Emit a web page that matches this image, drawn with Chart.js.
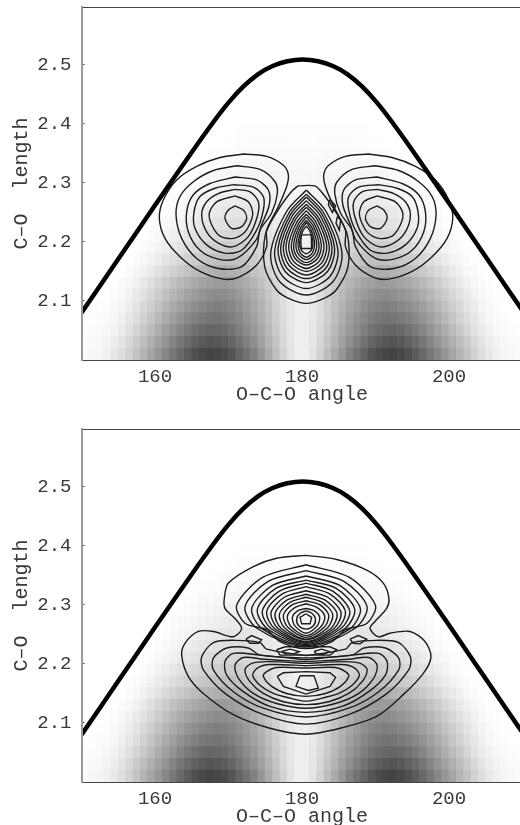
<!DOCTYPE html>
<html><head><meta charset="utf-8">
<script src="https://cdn.jsdelivr.net/npm/chart.js@4/dist/chart.umd.min.js"></script>
<style>html,body{margin:0;padding:0;background:#fff;overflow:hidden;width:520px;height:825px}
canvas{position:absolute;left:0;filter:blur(0.35px)}</style></head><body>
<canvas id="c1" width="560" height="407" style="top:0"></canvas>
<canvas id="c2" width="560" height="407" style="top:422px"></canvas>
<script>
const xTickValues=[160,180,200];
const yTickValues=[2.1,2.2,2.3,2.4,2.5];
const xLabel="O\u2013C\u2013O angle";
const yLabel="C\u2013O  length";
const cellAngles=[150.5,151.5,152.5,153.5,154.5,155.5,156.5,157.5,158.5,159.5,160.5,161.5,162.5,163.5,164.5,165.5,166.5,167.5,168.5,169.5,170.5,171.5,172.5,173.5,174.5,175.5,176.5,177.5,178.5,179.5,180.5,181.5,182.5,183.5,184.5,185.5,186.5,187.5,188.5,189.5,190.5,191.5,192.5,193.5,194.5,195.5,196.5,197.5,198.5,199.5,200.5,201.5,202.5,203.5,204.5,205.5,206.5,207.5,208.5,209.5];
const rowEdges=[2.00,2.02,2.04,2.06,2.08,2.10,2.12,2.14,2.16,2.18,2.20,2.22,2.24,2.26,2.28,2.30,2.32,2.34,2.36,2.38,2.40];
const heatRow00=[5,7,10,15,23,33,45,60,75,90,105,120,135,150,163,175,183,187,185,180,170,155,140,125,105,85,65,45,27,17,17,27,45,65,85,105,125,140,155,170,180,185,187,183,175,163,150,135,120,105,90,75,60,45,33,23,15,10,7,5];
const heatRow01=[4,5,8,12,18,27,38,52,66,80,94,108,122,136,148,158,166,170,168,163,153,140,126,112,95,76,58,40,25,17,17,25,40,58,76,95,112,126,140,153,163,168,170,166,158,148,136,122,108,94,80,66,52,38,27,18,12,8,5,4];
const heatRow02=[2,3,5,8,13,20,30,42,55,68,82,95,108,121,132,142,150,153,152,148,140,128,115,102,87,70,53,37,24,17,17,24,37,53,70,87,102,115,128,140,148,152,153,150,142,132,121,108,95,82,68,55,42,30,20,13,8,5,3,2];
const heatRow03=[0,1,3,5,9,15,24,34,46,58,71,84,96,108,118,127,134,138,139,136,129,119,107,95,81,65,50,35,23,17,17,23,35,50,65,81,95,107,119,129,136,139,138,134,127,118,108,96,84,71,58,46,34,24,15,9,5,3,1,0];
const heatRow04=[0,0,1,3,6,11,18,27,38,49,61,73,84,95,105,113,120,125,128,126,120,111,100,89,76,62,47,34,23,17,17,23,34,47,62,76,89,100,111,120,126,128,125,120,113,105,95,84,73,61,49,38,27,18,11,6,3,1,0,0];
const heatRow05=[0,0,0,1,3,7,13,21,30,40,51,62,73,83,92,100,107,112,115,114,109,101,92,82,70,57,44,32,22,17,17,22,32,44,57,70,82,92,101,109,114,115,112,107,100,92,83,73,62,51,40,30,21,13,7,3,1,0,0,0];
const heatRow06=[0,0,0,0,1,4,8,14,22,31,41,51,61,70,78,86,92,97,100,100,96,90,82,73,63,52,40,29,21,16,16,21,29,40,52,63,73,82,90,96,100,100,97,92,86,78,70,61,51,41,31,22,14,8,4,1,0,0,0,0];
const heatRow07=[0,0,0,0,0,1,4,8,14,21,29,38,46,54,61,68,73,77,81,82,79,75,69,62,54,45,35,26,20,15,15,20,26,35,45,54,62,69,75,79,82,81,77,73,68,61,54,46,38,29,21,14,8,4,1,0,0,0,0,0];
const heatRow08=[0,0,0,0,0,0,1,4,8,13,19,26,33,40,46,51,55,59,62,64,63,60,56,51,45,38,30,23,18,15,15,18,23,30,38,45,51,56,60,63,64,62,59,55,51,46,40,33,26,19,13,8,4,1,0,0,0,0,0,0];
const heatRow09=[0,0,0,0,0,0,0,1,4,7,12,17,23,29,34,39,43,46,49,51,51,50,47,43,38,33,27,21,17,14,14,17,21,27,33,38,43,47,50,51,51,49,46,43,39,34,29,23,17,12,7,4,1,0,0,0,0,0,0,0];
const heatRow10=[0,0,0,0,0,0,0,0,1,3,6,10,15,20,25,29,33,36,38,40,41,41,39,36,32,28,24,19,15,13,13,15,19,24,28,32,36,39,41,41,40,38,36,33,29,25,20,15,10,6,3,1,0,0,0,0,0,0,0,0];
const heatRow11=[0,0,0,0,0,0,0,0,0,1,3,6,9,13,17,21,25,28,30,32,33,33,32,30,27,24,20,17,14,12,12,14,17,20,24,27,30,32,33,33,32,30,28,25,21,17,13,9,6,3,1,0,0,0,0,0,0,0,0,0];
const heatRow12=[0,0,0,0,0,0,0,0,0,0,1,3,5,8,11,15,18,21,23,25,26,26,26,24,22,20,17,15,13,11,11,13,15,17,20,22,24,26,26,26,25,23,21,18,15,11,8,5,3,1,0,0,0,0,0,0,0,0,0,0];
const heatRow13=[0,0,0,0,0,0,0,0,0,0,0,1,3,5,7,10,13,15,17,19,20,20,20,19,18,16,14,12,11,10,10,11,12,14,16,18,19,20,20,20,19,17,15,13,10,7,5,3,1,0,0,0,0,0,0,0,0,0,0,0];
const heatRow14=[0,0,0,0,0,0,0,0,0,0,0,0,1,2,4,6,8,10,12,13,14,15,15,15,14,13,12,11,10,9,9,10,11,12,13,14,15,15,15,14,13,12,10,8,6,4,2,1,0,0,0,0,0,0,0,0,0,0,0,0];
const heatRow15=[0,0,0,0,0,0,0,0,0,0,0,0,0,1,2,3,5,6,8,9,10,11,11,11,11,10,10,9,8,7,7,8,9,10,10,11,11,11,11,10,9,8,6,5,3,2,1,0,0,0,0,0,0,0,0,0,0,0,0,0];
const heatRow16=[0,0,0,0,0,0,0,0,0,0,0,0,0,0,0,1,2,3,4,5,6,7,8,8,8,8,7,7,6,6,6,6,7,7,8,8,8,8,7,6,5,4,3,2,1,0,0,0,0,0,0,0,0,0,0,0,0,0,0,0];
const heatRow17=[0,0,0,0,0,0,0,0,0,0,0,0,0,0,0,0,0,1,2,3,3,4,4,5,5,5,5,4,4,4,4,4,4,5,5,5,5,4,4,3,3,2,1,0,0,0,0,0,0,0,0,0,0,0,0,0,0,0,0,0];
const heatRow18=[0,0,0,0,0,0,0,0,0,0,0,0,0,0,0,0,0,0,0,1,1,2,2,3,3,3,3,3,2,2,2,2,3,3,3,3,3,2,2,1,1,0,0,0,0,0,0,0,0,0,0,0,0,0,0,0,0,0,0,0];
const heatRow19=[0,0,0,0,0,0,0,0,0,0,0,0,0,0,0,0,0,0,0,0,0,1,1,1,1,1,1,1,1,1,1,1,1,1,1,1,1,1,1,0,0,0,0,0,0,0,0,0,0,0,0,0,0,0,0,0,0,0,0,0];
const heatRows=[heatRow00,heatRow01,heatRow02,heatRow03,heatRow04,heatRow05,heatRow06,heatRow07,heatRow08,heatRow09,heatRow10,heatRow11,heatRow12,heatRow13,heatRow14,heatRow15,heatRow16,heatRow17,heatRow18,heatRow19];

const ridge=[[150,2.08],[155,2.171],[160,2.262],[165,2.352],[168,2.404],[170,2.436],[172,2.463],[174,2.484],[176,2.498],[178,2.506],[180.1,2.509],[182.2,2.506],[184.2,2.498],[186.2,2.484],[188.2,2.463],[190.2,2.436],[192.2,2.404],[195.2,2.352],[200.2,2.262],[205.2,2.171],[210.2,2.08]];

const topLeft1=[[172.02,2.349],[175.19,2.345],[177.46,2.330],[178.14,2.314],[177.91,2.294],[176.78,2.260],[175.19,2.220],[175.19,2.192],[173.83,2.161],[171.34,2.140],[169.30,2.137],[166.12,2.150],[163.40,2.175],[161.36,2.206],[160.59,2.240],[161.13,2.271],[162.95,2.305],[165.67,2.328],[168.84,2.343]];
const topLeft2=[[171.11,2.329],[174.29,2.323],[176.33,2.302],[176.64,2.282],[175.87,2.249],[174.29,2.220],[173.83,2.192],[171.79,2.158],[168.62,2.155],[165.67,2.172],[163.63,2.206],[162.86,2.246],[163.40,2.277],[165.22,2.302],[167.94,2.321]];
const topLeft3=[[170.88,2.310],[173.83,2.305],[175.42,2.288],[175.55,2.263],[174.51,2.229],[173.74,2.203],[171.11,2.172],[168.62,2.171],[166.12,2.186],[164.54,2.217],[164.31,2.251],[165.22,2.280],[167.48,2.299]];
const topLeft4=[[170.66,2.297],[173.38,2.293],[174.74,2.277],[174.74,2.254],[173.83,2.220],[171.79,2.186],[169.52,2.181],[167.03,2.195],[165.44,2.223],[165.31,2.251],[166.12,2.277],[168.16,2.291]];
const topLeft5=[[170.88,2.289],[172.93,2.285],[174.06,2.268],[173.92,2.243],[172.70,2.209],[170.66,2.192],[168.62,2.198],[167.03,2.217],[166.35,2.246],[167.03,2.268],[168.62,2.282]];
const topLeft6=[[170.88,2.278],[172.70,2.268],[173.29,2.246],[172.25,2.217],[170.66,2.206],[168.84,2.210],[167.71,2.229],[167.39,2.249],[168.39,2.268]];
const topLeft7=[[170.88,2.261],[172.02,2.254],[172.47,2.240],[171.79,2.226],[170.43,2.223],[169.52,2.240],[169.98,2.254]];
const topRight1=[[189.08,2.349],[185.91,2.345],[183.64,2.330],[182.96,2.314],[183.19,2.294],[184.32,2.260],[185.91,2.220],[185.91,2.192],[187.27,2.161],[189.76,2.140],[191.80,2.137],[194.98,2.150],[197.70,2.175],[199.74,2.206],[200.51,2.240],[199.97,2.271],[198.15,2.305],[195.43,2.328],[192.26,2.343]];
const topRight2=[[189.99,2.329],[186.81,2.323],[184.77,2.302],[184.46,2.282],[185.23,2.249],[186.81,2.220],[187.27,2.192],[189.31,2.158],[192.48,2.155],[195.43,2.172],[197.47,2.206],[198.24,2.246],[197.70,2.277],[195.88,2.302],[193.16,2.321]];
const topRight3=[[190.22,2.310],[187.27,2.305],[185.68,2.288],[185.55,2.263],[186.59,2.229],[187.36,2.203],[189.99,2.172],[192.48,2.171],[194.98,2.186],[196.56,2.217],[196.79,2.251],[195.88,2.280],[193.62,2.299]];
const topRight4=[[190.44,2.297],[187.72,2.293],[186.36,2.277],[186.36,2.254],[187.27,2.220],[189.31,2.186],[191.58,2.181],[194.07,2.195],[195.66,2.223],[195.79,2.251],[194.98,2.277],[192.94,2.291]];
const topRight5=[[190.22,2.289],[188.17,2.285],[187.04,2.268],[187.18,2.243],[188.40,2.209],[190.44,2.192],[192.48,2.198],[194.07,2.217],[194.75,2.246],[194.07,2.268],[192.48,2.282]];
const topRight6=[[190.22,2.278],[188.40,2.268],[187.81,2.246],[188.85,2.217],[190.44,2.206],[192.26,2.210],[193.39,2.229],[193.71,2.249],[192.71,2.268]];
const topRight7=[[190.22,2.261],[189.08,2.254],[188.63,2.240],[189.31,2.226],[190.67,2.223],[191.58,2.240],[191.12,2.254]];
const topCore1=[[179.46,2.295],[178.55,2.285],[176.74,2.254],[175.01,2.212],[174.92,2.158],[176.51,2.119],[178.10,2.105],[180.59,2.096],[183.08,2.105],[184.67,2.119],[186.26,2.158],[186.17,2.212],[184.44,2.254],[182.63,2.285],[181.72,2.295]];
const topCore2=[[180.59,2.288],[177.92,2.252],[175.74,2.181],[176.95,2.133],[180.59,2.110],[184.23,2.133],[185.44,2.181],[183.26,2.252]];
const topCore3=[[180.59,2.281],[178.22,2.249],[176.28,2.185],[177.36,2.142],[180.59,2.121],[183.82,2.142],[184.90,2.185],[182.96,2.249]];
const topCore4=[[180.59,2.276],[178.47,2.247],[176.74,2.189],[177.70,2.150],[180.59,2.131],[183.48,2.150],[184.44,2.189],[182.71,2.247]];
const topCore5=[[180.59,2.270],[178.67,2.244],[177.10,2.191],[177.97,2.155],[180.59,2.138],[183.21,2.155],[184.08,2.191],[182.51,2.244]];
const topCore6=[[180.59,2.264],[178.87,2.240],[177.46,2.192],[178.24,2.160],[180.59,2.144],[182.94,2.160],[183.72,2.192],[182.31,2.240]];
const topCore7=[[180.59,2.259],[179.07,2.237],[177.82,2.194],[178.51,2.164],[180.59,2.150],[182.67,2.164],[183.36,2.194],[182.11,2.237]];
const topCore8=[[180.59,2.253],[179.27,2.233],[178.19,2.194],[178.79,2.168],[180.59,2.155],[182.39,2.168],[182.99,2.194],[181.91,2.233]];
const topCore9=[[180.59,2.247],[179.47,2.230],[178.55,2.195],[179.06,2.172],[180.59,2.161],[182.12,2.172],[182.63,2.195],[181.71,2.230]];
const topCore10=[[180.59,2.242],[179.64,2.227],[178.87,2.196],[179.30,2.175],[180.59,2.165],[181.88,2.175],[182.31,2.196],[181.54,2.227]];
const topCore11=[[180.59,2.237],[179.81,2.224],[179.18,2.197],[179.53,2.179],[180.59,2.170],[181.65,2.179],[182.00,2.197],[181.37,2.224]];
const topCore12=[[180.59,2.233],[179.97,2.221],[179.46,2.198],[179.74,2.182],[180.59,2.174],[181.44,2.182],[181.72,2.198],[181.21,2.221]];
const topCore13=[[180.59,2.227],[180.09,2.218],[179.68,2.199],[179.91,2.186],[180.59,2.180],[181.27,2.186],[181.50,2.199],[181.09,2.218]];
const topCore14=[[179.91,2.212],[181.27,2.212],[181.35,2.200],[181.27,2.189],[179.91,2.189],[179.83,2.200]];
const topDiamond1=[[183.81,2.272],[184.58,2.261],[184.13,2.250],[183.58,2.263]];
const topDiamond2=[[184.81,2.243],[185.26,2.237],[185.08,2.220],[184.63,2.232]];

const botOutline=[[180.54,2.384],[184.72,2.377],[188.80,2.359],[191.06,2.337],[191.83,2.311],[191.52,2.294],[189.93,2.272],[189.25,2.260],[190.38,2.246],[191.97,2.252],[194.69,2.255],[196.73,2.238],[197.55,2.212],[196.51,2.184],[193.78,2.148],[190.16,2.111],[185.17,2.091],[180.55,2.081],[175.64,2.091],[170.66,2.114],[166.58,2.150],[164.53,2.179],[163.63,2.215],[164.08,2.235],[165.89,2.255],[167.94,2.255],[170.66,2.246],[171.79,2.260],[170.88,2.277],[169.52,2.294],[169.43,2.311],[169.98,2.337],[173.38,2.365],[176.55,2.379]];
const botUpper1=[[180.55,2.368],[186.40,2.347],[189.98,2.300],[188.86,2.269],[185.91,2.258],[184.10,2.238],[180.55,2.226],[177.0,2.238],[175.19,2.258],[172.24,2.269],[171.12,2.300],[174.70,2.347]];
const botUpper2=[[180.55,2.358],[185.70,2.340],[188.85,2.297],[187.19,2.260],[180.55,2.229],[173.91,2.260],[172.25,2.297],[175.40,2.340]];
const botUpper3=[[180.55,2.349],[185.13,2.333],[187.94,2.294],[186.46,2.259],[180.55,2.231],[174.64,2.259],[173.16,2.294],[175.97,2.333]];
const botUpper4=[[180.55,2.342],[184.65,2.328],[187.17,2.293],[185.85,2.260],[180.55,2.233],[175.25,2.260],[173.93,2.293],[176.45,2.328]];
const botUpper5=[[180.55,2.337],[184.23,2.323],[186.49,2.290],[185.30,2.260],[180.55,2.235],[175.80,2.260],[174.61,2.290],[176.87,2.323]];
const botUpper6=[[180.55,2.331],[183.87,2.318],[185.90,2.289],[184.83,2.260],[180.55,2.237],[176.27,2.260],[175.20,2.289],[177.23,2.318]];
const botUpper7=[[180.55,2.324],[183.50,2.313],[185.31,2.287],[184.36,2.260],[180.55,2.238],[176.74,2.260],[175.79,2.287],[177.60,2.313]];
const botUpper8=[[180.55,2.318],[183.16,2.308],[184.77,2.285],[183.92,2.260],[180.55,2.241],[177.18,2.260],[176.33,2.285],[177.94,2.308]];
const botUpper9=[[180.55,2.313],[182.80,2.304],[184.18,2.284],[183.45,2.261],[180.55,2.242],[177.65,2.261],[176.92,2.284],[178.30,2.304]];
const botUpper10=[[180.55,2.307],[182.46,2.300],[183.63,2.283],[183.02,2.262],[180.55,2.245],[178.08,2.262],[177.47,2.283],[178.64,2.300]];
const botUpper11=[[180.55,2.302],[182.12,2.295],[183.09,2.281],[182.58,2.263],[180.55,2.248],[178.52,2.263],[178.01,2.281],[178.98,2.295]];
const botUpper12=[[180.55,2.294],[181.70,2.290],[182.41,2.279],[182.04,2.264],[180.55,2.252],[179.06,2.264],[178.69,2.279],[179.40,2.290]];
const botUpper13=[[180.55,2.290],[181.34,2.286],[181.82,2.277],[181.57,2.265],[180.55,2.259],[179.53,2.265],[179.28,2.277],[179.76,2.286]];
const botUpper14=[[180.54,2.285],[181.31,2.279],[181.09,2.268],[179.95,2.268],[179.73,2.279]];
const botLower1=[[180.55,2.214],[175.19,2.225],[174.28,2.236],[170.88,2.240],[167.94,2.236],[166.35,2.212],[166.58,2.190],[169.75,2.148],[174.74,2.114],[180.55,2.098],[186.36,2.114],[191.35,2.148],[194.52,2.190],[194.75,2.212],[193.16,2.236],[190.22,2.240],[186.82,2.236],[185.91,2.225]];
const botLower2=[[180.55,2.210],[174.28,2.215],[172.70,2.227],[169.75,2.227],[167.94,2.210],[167.94,2.190],[170.66,2.153],[174.74,2.125],[180.55,2.110],[186.36,2.125],[190.44,2.153],[193.16,2.190],[193.16,2.210],[191.35,2.227],[188.40,2.227],[186.82,2.215]];
const botLower3=[[180.55,2.207],[174.28,2.215],[170.66,2.218],[169.52,2.204],[169.75,2.181],[172.02,2.153],[175.64,2.128],[180.55,2.118],[185.46,2.128],[189.08,2.153],[191.35,2.181],[191.58,2.204],[190.44,2.218],[186.82,2.215]];
const botLower4=[[180.55,2.204],[174.74,2.208],[172.02,2.211],[170.88,2.198],[171.34,2.176],[173.38,2.150],[176.55,2.133],[180.55,2.125],[184.55,2.133],[187.72,2.150],[189.76,2.176],[190.22,2.198],[189.08,2.211],[186.36,2.208]];
const botLower5=[[180.55,2.201],[175.19,2.204],[173.15,2.201],[172.24,2.190],[172.92,2.170],[174.74,2.150],[177.46,2.136],[180.55,2.131],[183.64,2.136],[186.36,2.150],[188.18,2.170],[188.86,2.190],[187.95,2.201],[185.91,2.204]];
const botLower6=[[180.55,2.197],[175.64,2.199],[173.92,2.193],[173.29,2.181],[174.28,2.164],[176.10,2.150],[178.37,2.142],[180.55,2.137],[182.73,2.142],[185.0,2.150],[186.82,2.164],[187.81,2.181],[187.18,2.193],[185.46,2.199]];
const botLower7=[[180.55,2.193],[176.55,2.194],[175.19,2.187],[174.74,2.179],[175.87,2.162],[177.91,2.150],[180.55,2.145],[183.19,2.150],[185.23,2.162],[186.36,2.179],[185.91,2.187],[184.55,2.194]];
const botLower8=[[176.64,2.179],[177.46,2.185],[180.55,2.187],[183.81,2.185],[184.58,2.177],[183.81,2.162],[180.55,2.149],[177.46,2.162]];
const botLower9=[[179.73,2.180],[181.63,2.180],[182.22,2.159],[180.86,2.155],[179.18,2.162]];
const botOvalL=[[172.38,2.242],[173.15,2.248],[174.51,2.241],[174.06,2.235],[172.92,2.235]];
const botOvalR=[[186.53,2.242],[187.66,2.248],[188.80,2.242],[187.89,2.234],[186.98,2.235]];
const botInnerL=[[177.23,2.221],[178.37,2.225],[179.64,2.221],[178.82,2.217],[177.69,2.217]];
const botInnerR=[[181.63,2.221],[182.67,2.225],[183.72,2.221],[182.90,2.216],[181.99,2.217]];
const botInnerWrap=[[176.55,2.224],[177.69,2.229],[183.81,2.229],[184.72,2.224],[183.81,2.215],[177.01,2.215]];

const topSmooth=[topLeft1,topLeft2,topLeft3,topLeft4,topLeft5,topLeft6,topLeft7,topRight1,topRight2,topRight3,topRight4,topRight5,topRight6,topRight7,topCore1,topCore2,topCore3,topCore4,topCore5,topCore6,topCore7,topCore8,topCore9,topCore10,topCore11,topCore12,topCore13];
const topSharp=[topCore14,topDiamond1,topDiamond2];
const botSmooth=[botOutline,botUpper1,botUpper2,botUpper3,botUpper4,botUpper5,botUpper6,botUpper7,botUpper8,botUpper9,botUpper10,botUpper11,botUpper12,botUpper13,botLower1,botLower2,botLower3,botLower4,botLower5,botLower6,botLower7];
const botSharp=[botUpper14,botLower8,botLower9,botOvalL,botOvalR,botInnerL,botInnerR,botInnerWrap];

const FONT={family:"'Liberation Mono',monospace",size:19};
const TITLE_FONT={family:"'Liberation Mono',monospace",size:20};
const INK='#3a3a3a';
function pts(a){return a.concat([a[0]]).map(p=>({x:p[0],y:p[1]}));}
function lineSet(a,t){return {type:'line',data:pts(a),borderColor:'#1c1c1c',borderWidth:1.4,pointRadius:0,tension:t,fill:false,order:2};}
function heatSets(){
  return heatRows.map((row,r)=>{
    const cells=[],cols=[];
    row.forEach((d,i)=>{if(d>0){cells.push({x:cellAngles[i],y:[rowEdges[r],rowEdges[r+1]]});const g=255-d;cols.push('rgb('+g+','+g+','+g+')');}});
    return {type:'bar',data:cells,backgroundColor:cols,borderWidth:0,grouped:false,barPercentage:1,categoryPercentage:1,order:10};
  });
}
function make(id,smooth,sharp){
  const ds=[{type:'line',data:ridge.map(p=>({x:p[0],y:p[1]})),borderColor:'#000',borderWidth:4.5,pointRadius:0,tension:0.3,fill:false,order:0}]
    .concat(smooth.map(a=>lineSet(a,0.3)),sharp.map(a=>lineSet(a,0)),heatSets());
  new Chart(document.getElementById(id),{
    type:'bar',
    data:{datasets:ds},
    options:{responsive:false,animation:false,
      layout:{padding:{top:7,right:37.5,left:0,bottom:0}},
      plugins:{legend:{display:false},tooltip:{enabled:false}},
      scales:{
        x:{type:'linear',min:150,max:210,offset:false,position:'bottom',
          afterFit:s=>{s.height=47;s.paddingLeft=0;s.paddingRight=0;},
          afterBuildTicks:s=>{s.ticks=xTickValues.map(v=>({value:v}));},
          grid:{offset:false,drawOnChartArea:false,tickLength:0,z:1},
          border:{display:true,color:'#444',width:1,z:1},
          ticks:{font:FONT,color:INK,padding:6,maxRotation:0,autoSkip:false},
          title:{display:true,text:xLabel,font:TITLE_FONT,color:INK,padding:{top:0,bottom:0}}},
        xTop:{type:'linear',min:150,max:210,position:'top',
          afterFit:s=>{s.height=0;s.paddingLeft=0;s.paddingRight=0;},
          grid:{drawOnChartArea:false,drawTicks:false},
          border:{display:true,color:'#444',width:1},
          ticks:{display:false}},
        y:{type:'linear',min:2,max:2.598,position:'left',
          afterFit:s=>{s.width=81.5;s.paddingTop=0;s.paddingBottom=0;},
          afterBuildTicks:s=>{s.ticks=yTickValues.map(v=>({value:v}));},
          grid:{drawOnChartArea:false,tickLength:-3,color:'#444',z:1},
          border:{display:true,color:'#999',width:2,z:1},
          ticks:{font:FONT,color:INK,padding:13,callback:v=>v.toFixed(1)},
          title:{display:true,text:yLabel,font:TITLE_FONT,color:INK,padding:{top:10,bottom:0}}}
      }
    }
  });
}
make('c1',topSmooth,topSharp);
make('c2',botSmooth,botSharp);
</script></body></html>
